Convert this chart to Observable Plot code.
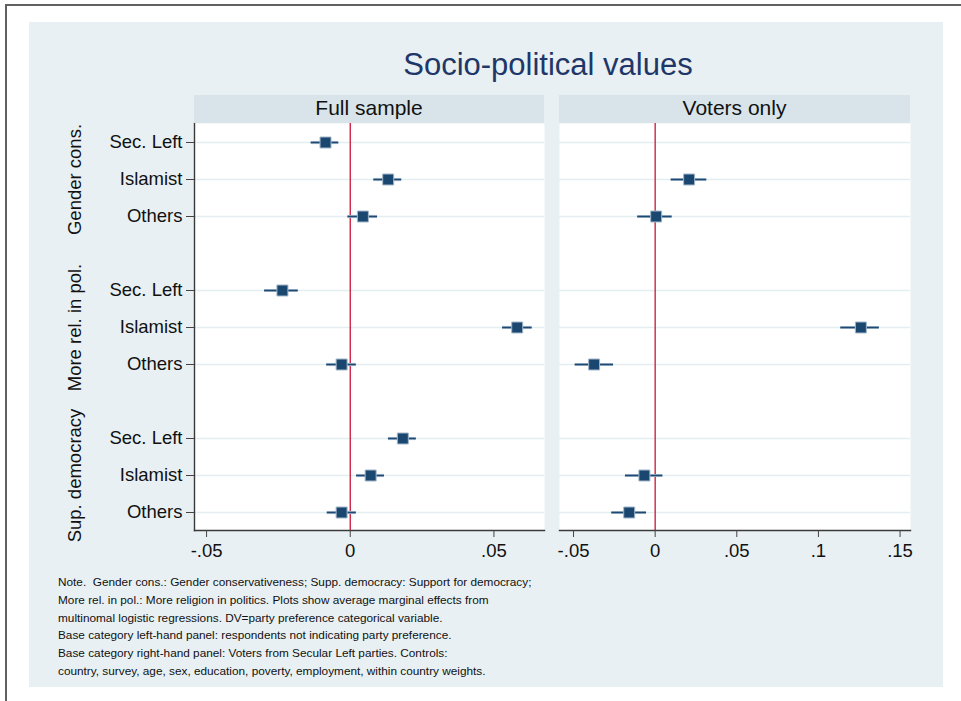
<!DOCTYPE html>
<html>
<head>
<meta charset="utf-8">
<script src="https://cdn.jsdelivr.net/npm/d3@7"></script>
<script src="https://cdn.jsdelivr.net/npm/@observablehq/plot@0.6"></script>
<style>
  html, body { margin: 0; padding: 0; background: #ffffff; }
  #page { position: relative; width: 961px; height: 701px; overflow: hidden;
          font-family: "Liberation Sans", Arial, Helvetica, sans-serif; }
  .abs { position: absolute; }
  #frameTop { left: 5px; top: 4px; width: 956px; height: 2px; background: #606060; }
  #frameLeft { left: 5px; top: 4px; width: 2px; height: 697px; background: #606060; }
  #bg { left: 29px; top: 22px; width: 914px; height: 665px; background: #e8f0f3; }
  #title { left: 190px; width: 716px; top: 50px; text-align: center; font-size: 31px;
           line-height: 30px; color: #1f3768; white-space: nowrap; }
  .strip { top: 95px; height: 28px; background: #d8e4ea; text-align: center;
           font-size: 21px; line-height: 26px; color: #111; }
  #note { left: 58px; top: 574px; font-size: 11.8px; line-height: 17.8px; color: #111;
          white-space: pre; }
</style>
</head>
<body>
<div id="page">
  <div id="frameTop" class="abs"></div>
  <div id="frameLeft" class="abs"></div>
  <div id="bg" class="abs"></div>
  <div id="title" class="abs">Socio-political values</div>
</div>
<script>
// Average marginal effects with confidence intervals, listed group by group
// in the order Sec. Left, Islamist, Others.
const groups = ["Gender cons.", "More rel. in pol.", "Sup. democracy"];
const parties = ["Sec. Left", "Islamist", "Others"];

const fullEst = [-0.0086, 0.0132, 0.0044, -0.0236, 0.0581, -0.0030, 0.0183, 0.0071, -0.0030];
const fullLo  = [-0.0136, 0.0082, -0.0008, -0.0298, 0.0530, -0.0082, 0.0133, 0.0022, -0.0080];
const fullHi  = [-0.0040, 0.0179, 0.0095, -0.0181, 0.0633, 0.0021, 0.0230, 0.0119, 0.0021];

// Voters only: Secular Left is the base category, so it has no estimate.
const votersEst = [null, 0.0208, 0.0006, null, 0.1260, -0.0374, null, -0.0066, -0.0159];
const votersLo  = [null, 0.0098, -0.0107, null, 0.1137, -0.0490, null, -0.0182, -0.0266];
const votersHi  = [null, 0.0316, 0.0104, null, 0.1373, -0.0255, null, 0.0047, -0.0053];

const fullTicks = [-0.05, 0, 0.05];
const votersTicks = [-0.05, 0, 0.05, 0.1, 0.15];

const panelTitles = ["Full sample", "Voters only"];

const noteLines = [
  "Note.  Gender cons.: Gender conservativeness; Supp. democracy: Support for democracy;",
  "More rel. in pol.: More religion in politics. Plots show average marginal effects from",
  "multinomal logistic regressions. DV=party preference categorical variable.",
  "Base category left-hand panel: respondents not indicating party preference.",
  "Base category right-hand panel: Voters from Secular Left parties. Controls:",
  "country, survey, age, sex, education, poverty, employment, within country weights."
];

// ---- build rows and the categorical y domain (with a spacer between groups)
const key = (g, p) => g + "|" + p;
const rowKeys = [];
const yDomain = [];
groups.forEach((g, i) => {
  if (i > 0) yDomain.push("spacer" + i);
  parties.forEach(p => { rowKeys.push(key(g, p)); yDomain.push(key(g, p)); });
});

function makeRows(est, lo, hi) {
  const out = [];
  groups.forEach((g, gi) => parties.forEach((p, pi) => {
    const i = gi * parties.length + pi;
    if (est[i] != null) out.push({key: key(g, p), group: g, party: p, est: est[i], lo: lo[i], hi: hi[i]});
  }));
  return out;
}
const fullRows = makeRows(fullEst, fullLo, fullHi);
const voterRows = makeRows(votersEst, votersLo, votersHi);
const groupLabels = groups.map(g => ({key: key(g, "Islamist"), group: g}));

const fmt = d => {
  const s = String(+d.toFixed(3));
  return s.replace(/^(-?)0\./, "$1.");
};

const FONT = "Liberation Sans, Arial, Helvetica, sans-serif";
const NAVY = "#1a476f";

function coefMarks(rows) {
  return [
    Plot.frame({fill: "white", stroke: null}),
    Plot.ruleY(rowKeys, {stroke: "#e4edf0", strokeWidth: 1.6}),
    Plot.ruleX([0], {stroke: "#cc1436", strokeWidth: 1.3}),
    Plot.ruleY(rows, {y: "key", x1: "lo", x2: "hi", stroke: "#a9bccd", strokeWidth: 3.2}),
    Plot.ruleY(rows, {y: "key", x1: "lo", x2: "hi", stroke: "#1d4a74", strokeWidth: 1.5}),
    Plot.dot(rows, {x: "est", y: "key", symbol: "square", r: 6.2, fill: NAVY,
                    stroke: "#a3b7ca", strokeWidth: 1})
  ];
}

function xAxisMarks(ticks) {
  return [
    Plot.frame({anchor: "bottom", stroke: "#3a3a3a", strokeWidth: 1.4}),
    Plot.axisX({ticks, tickFormat: fmt, tickSize: 7, tickPadding: 6, fontSize: 18.5,
                stroke: "#444", fill: "#111", label: null})
  ];
}

const common = {
  height: 457,
  marginTop: 10,
  marginBottom: 40,
  y: {type: "point", domain: yDomain, padding: 0.5, axis: null},
  style: {background: "transparent", fontFamily: FONT, fontSize: "18.5px", color: "#111", overflow: "visible"}
};

// Left panel: full sample, with row and group labels
const left = Plot.plot({
  ...common,
  width: 504,
  marginLeft: 154,
  marginRight: 0,
  x: {domain: [-0.0542, 0.0676]},
  marks: [
    ...coefMarks(fullRows),
    ...xAxisMarks(fullTicks),
    Plot.frame({anchor: "left", stroke: "#3a3a3a", strokeWidth: 1.4}),
    Plot.axisY({ticks: rowKeys, tickFormat: d => d.split("|")[1], tickSize: 8, tickPadding: 4,
                fontSize: 18.5, stroke: "#444", fill: "#111", label: null}),
    Plot.text(groupLabels, {y: "key", text: "group", frameAnchor: "left", textAnchor: "middle",
                            dx: -119, rotate: -90, fontSize: 18.5, fill: "#111"})
  ]
});

// Right panel: voters only
const right = Plot.plot({
  ...common,
  width: 391,
  marginLeft: 20,
  marginRight: 20,
  x: {domain: [-0.0586, 0.1564]},
  marks: [
    ...coefMarks(voterRows),
    ...xAxisMarks(votersTicks)
  ]
});

const page = document.getElementById("page");
function place(node, x, y) {
  node.style.position = "absolute";
  node.style.left = x + "px";
  node.style.top = y + "px";
  page.appendChild(node);
}
place(left, 40, 113);
place(right, 539, 113);

// Panel header strips
[[194, 350], [559, 351]].forEach(([x, w], i) => {
  const d = document.createElement("div");
  d.className = "abs strip";
  d.style.left = x + "px";
  d.style.width = w + "px";
  d.textContent = panelTitles[i];
  page.appendChild(d);
});

const note = document.createElement("div");
note.id = "note";
note.className = "abs";
note.textContent = noteLines.join("\n");
page.appendChild(note);
</script>
</body>
</html>
